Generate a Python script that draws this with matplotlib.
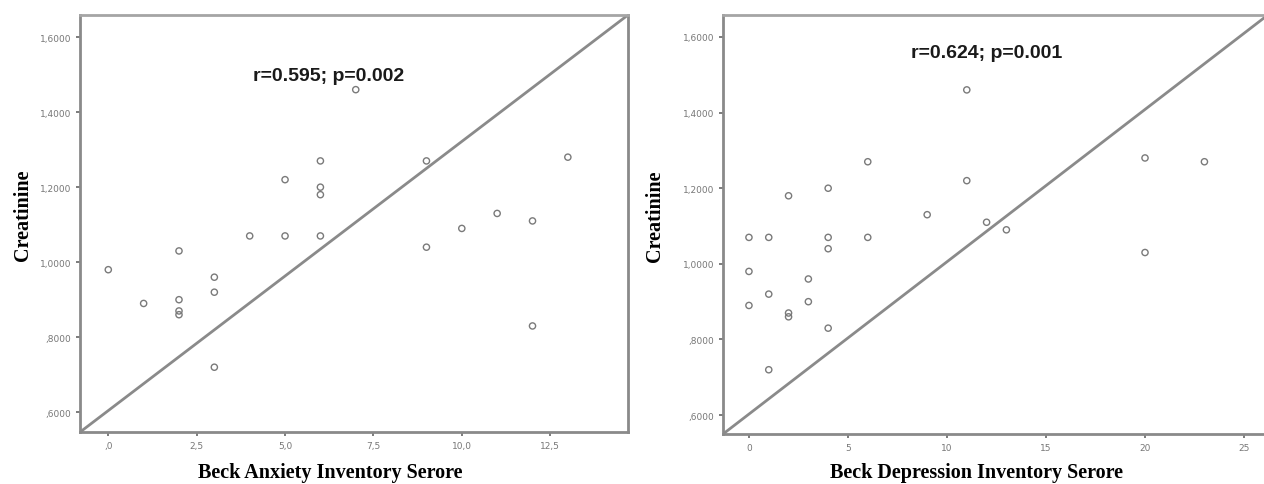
import matplotlib.pyplot as plt
from matplotlib.ticker import FuncFormatter

# Beck Anxiety Inventory vs Creatinine
anx_x = [0, 1, 2, 2, 2, 2, 3, 3, 3, 4, 5, 5, 6, 6, 6, 6, 7, 9, 9, 10, 11, 12, 12, 13]
anx_y = [0.98, 0.89, 1.03, 0.90, 0.87, 0.86, 0.96, 0.92, 0.72, 1.07, 1.22, 1.07,
         1.27, 1.20, 1.18, 1.07, 1.46, 1.27, 1.04, 1.09, 1.13, 1.11, 0.83, 1.28]

# Beck Depression Inventory vs Creatinine
dep_x = [0, 0, 0, 1, 1, 1, 2, 2, 2, 3, 3, 4, 4, 4, 4, 6, 6, 9, 11, 11, 12, 13, 20, 20, 23]
dep_y = [1.07, 0.98, 0.89, 1.07, 0.92, 0.72, 1.18, 0.87, 0.86, 0.96, 0.90,
         1.20, 1.07, 1.04, 0.83, 1.27, 1.07, 1.13, 1.46, 1.22, 1.11, 1.09, 1.28, 1.03, 1.27]

anx_ticks = [0, 2.5, 5.0, 7.5, 10.0, 12.5]
dep_ticks = [0, 5, 10, 15, 20, 25]
y_ticks = [0.6, 0.8, 1.0, 1.2, 1.4, 1.6]

GRAY = '#8a8a8a'


def spss_fmt(decimals):
    # SPSS style: comma decimal, no leading zero
    def f(v, pos):
        s = f"{v:.{decimals}f}".replace('.', ',')
        if s.startswith('0,'):
            s = s[1:]
        return s
    return FuncFormatter(f)


def style_ax(ax):
    for sp in ax.spines.values():
        sp.set_color(GRAY)
        sp.set_linewidth(2)
    ax.spines['top'].set_color('#a5a5a5')
    ax.tick_params(colors='#666666', labelsize=6.5, length=3, width=1.2,
                   labelcolor='#777777')
    ax.set_yticks(y_ticks)
    ax.yaxis.set_major_formatter(spss_fmt(4))
    ax.axline((0, 0), (1, 1), transform=ax.transAxes, color=GRAY, lw=2)


fig = plt.figure(figsize=(12.64, 4.85), dpi=100)
ax1 = fig.add_axes([0.0633, 0.107, 0.4335, 0.860])
ax2 = fig.add_axes([0.572, 0.103, 0.431, 0.864])

label_font = dict(family='Liberation Serif', fontweight='bold', fontsize=14.5)
note_font = dict(family='Liberation Sans', fontweight='bold', fontsize=14)

# left panel
ax1.scatter(anx_x, anx_y, s=20, facecolors='none', edgecolors='#7a7a7a', linewidths=1, zorder=3)
ax1.set_xlim(-0.8, 14.7)
ax1.set_ylim(0.547, 1.659)
ax1.set_xticks(anx_ticks)
ax1.xaxis.set_major_formatter(spss_fmt(1))
style_ax(ax1)
ax1.text(6.22, 1.497, 'r=0.595; p=0.002', ha='center', va='center', color='#1a1a1a', **note_font)
ax1.set_xlabel('Beck Anxiety Inventory Serore', **label_font)
ax1.set_ylabel('Creatinine', **label_font)
ax1.xaxis.set_label_coords(0.456, -0.072)
ax1.yaxis.set_label_coords(-0.086, 0.523)

# right panel
ax2.scatter(dep_x, dep_y, s=20, facecolors='none', edgecolors='#7a7a7a', linewidths=1, zorder=3)
ax2.set_xlim(-1.31, 26.2)
ax2.set_ylim(0.55, 1.658)
ax2.set_xticks(dep_ticks)
style_ax(ax2)
ax2.text(12.0, 1.56, 'r=0.624; p=0.001', ha='center', va='center', color='#1a1a1a', **note_font)
ax2.set_xlabel('Beck Depression Inventory Serore', **label_font)
ax2.set_ylabel('Creatinine', **label_font)
ax2.xaxis.set_label_coords(0.466, -0.067)
ax2.yaxis.set_label_coords(-0.106, 0.523)

fig.savefig('out.png', dpi=100)
